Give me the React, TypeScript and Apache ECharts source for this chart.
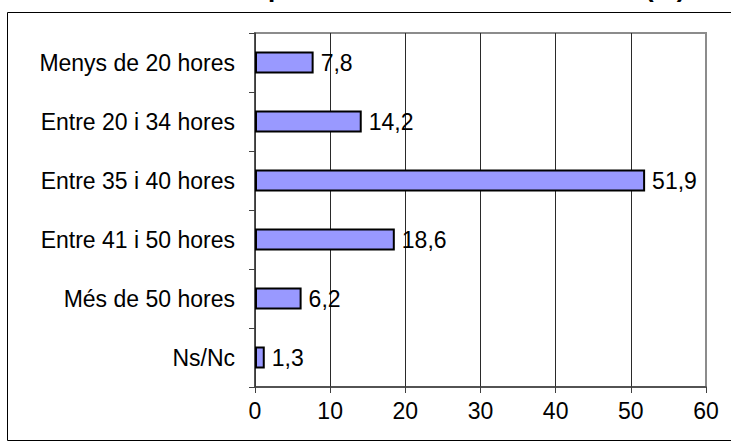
import React, { useEffect, useRef } from "react";
import * as echarts from "echarts";

const titleText = "Hores treballades per setmana en la feina actual (%)";
const categories = [
  "Menys de 20 hores",
  "Entre 20 i 34 hores",
  "Entre 35 i 40 hores",
  "Entre 41 i 50 hores",
  "Més de 50 hores",
  "Ns/Nc",
];
const values = [7.8, 14.2, 51.9, 18.6, 6.2, 1.3];
const xMin = 0;
const xMax = 60;
const xInterval = 10;

const FONT = "Arial, 'Liberation Sans', sans-serif";

export default function App() {
  const ref = useRef<HTMLDivElement>(null);
  useEffect(() => {
    if (!ref.current) return;
    const chart = echarts.init(ref.current, undefined, { renderer: "svg" });
    const grey = "#8c8c8c";
    const gl = "#2a2a2a";
    chart.setOption({
      animation: false,
      backgroundColor: "#ffffff",
      grid: {
        left: 255,
        right: 25,
        top: 33,
        bottom: 57,
        show: true,
        borderColor: grey,
        borderWidth: 2,
        backgroundColor: "transparent",
      },
      xAxis: {
        type: "value",
        min: xMin,
        max: xMax,
        interval: xInterval,
        axisLine: { show: true, lineStyle: { color: "#404040", width: 1.5 } },
        axisTick: { show: true, length: 6, lineStyle: { color: "#404040" } },
        axisLabel: { color: "#000", fontSize: 23, fontFamily: FONT, margin: 12 },
        splitLine: {
          show: true,
          lineStyle: { color: [gl, gl, gl, gl, gl, gl, grey], width: 1 },
        },
      },
      yAxis: {
        type: "category",
        data: categories,
        inverse: true,
        axisLine: { show: true, lineStyle: { color: "#404040", width: 1.5 } },
        axisTick: { show: true, length: 6, lineStyle: { color: "#404040" } },
        axisLabel: { color: "#000", fontSize: 23, fontFamily: FONT, margin: 20 },
        splitLine: { show: false },
      },
      series: [
        {
          type: "bar",
          data: values,
          barWidth: 22,
          itemStyle: { color: "#9999ff", borderColor: "#000", borderWidth: 2 },
          label: {
            show: true,
            position: "right",
            distance: 7,
            color: "#000",
            fontSize: 23,
            fontFamily: FONT,
            formatter: (p: any) => String(p.value).replace(".", ","),
          },
        },
      ],
      graphic: [
        {
          type: "rect",
          shape: { x: 7.5, y: 12.5, width: 740, height: 428 },
          style: { fill: "transparent", stroke: "#000", lineWidth: 1 },
          silent: true,
        },
        {
          type: "text",
          x: 364,
          y: -12,
          style: {
            text: titleText,
            font: "bold 26px " + FONT,
            fill: "#000",
            align: "center",
            verticalAlign: "middle",
          },
        },
      ],
    });
    return () => chart.dispose();
  }, []);
  return (
    <div
      ref={ref}
      style={{ position: "absolute", left: 0, top: 0, width: 731, height: 444, background: "#fff" }}
    />
  );
}
